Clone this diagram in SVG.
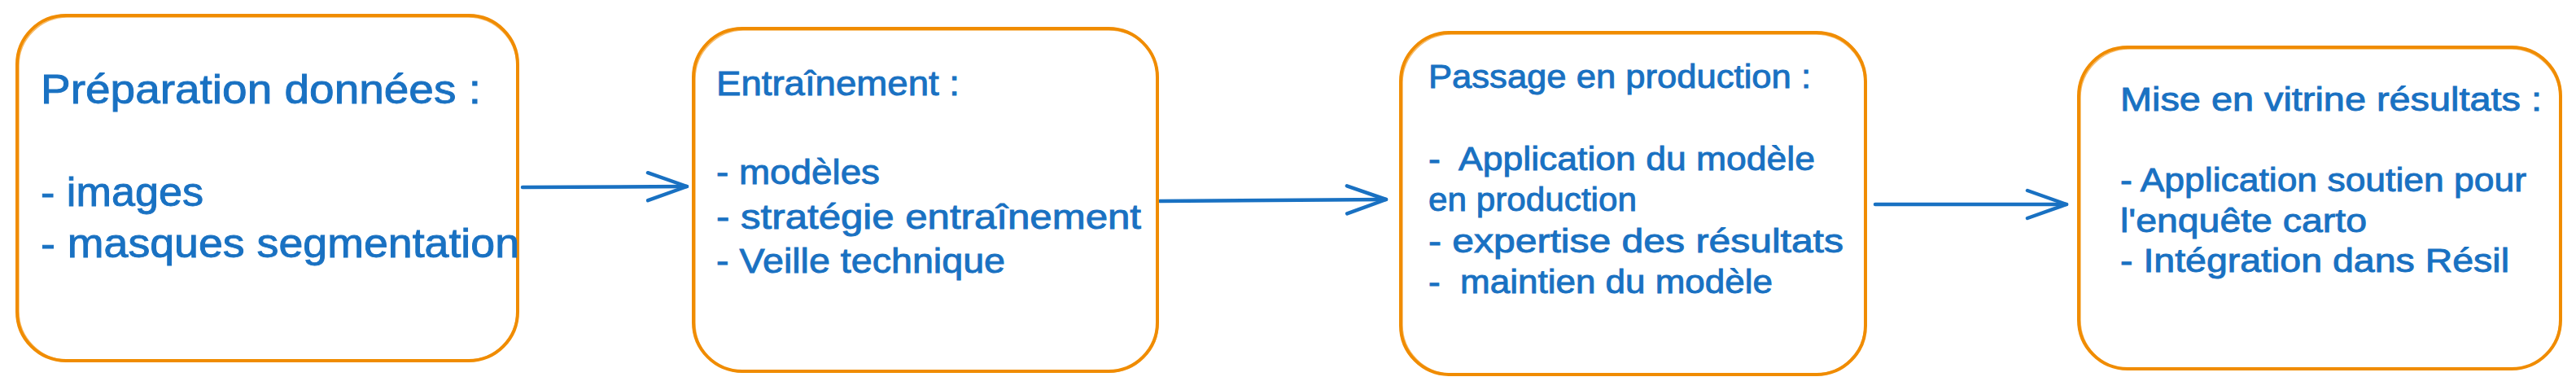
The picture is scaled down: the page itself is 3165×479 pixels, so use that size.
<svg xmlns="http://www.w3.org/2000/svg" width="3165" height="479" viewBox="0 0 3165 479">
<style>
.box{fill:#ffffff;stroke:#f08c00;stroke-width:4;stroke-linejoin:round}
.box2{fill:none;stroke:#f08c00;stroke-width:1.5;opacity:0.6}
.t{fill:#1971c2;stroke:#1971c2;stroke-width:0.9;font-family:"Liberation Sans","DejaVu Sans",sans-serif;white-space:pre}
.edge{fill:none;stroke:#1971c2;stroke-width:4.5;stroke-linecap:round}
.head{fill:none;stroke:#1971c2;stroke-width:4.5;stroke-linecap:round;stroke-linejoin:round}
</style>
<defs>
<marker id="ah" markerUnits="userSpaceOnUse" markerWidth="70" markerHeight="50" viewBox="-60 -25 70 50" refX="0" refY="0" orient="auto" overflow="visible">
<path class="head" d="M-48,-17 L0,0 L-48,17"/>
</marker>
</defs>
<rect width="3165" height="479" fill="#ffffff"/>
<g id="connectors">
<path id="e1" class="edge" d="M642,230 L844,229" marker-end="url(#ah)"/>
<path id="e2" class="edge" d="M1425,247 L1703,245" marker-end="url(#ah)"/>
<path id="e3" class="edge" d="M2304,251 L2539,251" marker-end="url(#ah)"/>
</g>
<g id="node1">
<rect class="box" x="21" y="19" width="615" height="424" rx="60" ry="60"/>
<rect class="box2" x="23" y="21" width="612" height="421" rx="60" ry="60"/>
<text class="t" font-size="50" x="50" y="127" textLength="541" lengthAdjust="spacingAndGlyphs">Préparation données :</text>
<text class="t" font-size="50" x="50" y="253" textLength="200" lengthAdjust="spacingAndGlyphs">- images</text>
<text class="t" font-size="50" x="50" y="316" textLength="588" lengthAdjust="spacingAndGlyphs">- masques segmentation</text>
</g>
<g id="node2">
<rect class="box" x="852" y="35" width="570" height="421" rx="60" ry="60"/>
<rect class="box2" x="854" y="37" width="569" height="420" rx="60" ry="60"/>
<text class="t" font-size="42" x="880" y="117" textLength="299" lengthAdjust="spacingAndGlyphs">Entraînement :</text>
<text class="t" font-size="42" x="880" y="226" textLength="201" lengthAdjust="spacingAndGlyphs">- modèles</text>
<text class="t" font-size="42" x="880" y="281" textLength="522" lengthAdjust="spacingAndGlyphs">- stratégie entraînement</text>
<text class="t" font-size="42" x="880" y="335" textLength="355" lengthAdjust="spacingAndGlyphs">- Veille technique</text>
</g>
<g id="node3">
<rect class="box" x="1721" y="40" width="571" height="420" rx="60" ry="60"/>
<rect class="box2" x="1723" y="42" width="568" height="417" rx="60" ry="60"/>
<text class="t" font-size="40" x="1755" y="108" textLength="470" lengthAdjust="spacingAndGlyphs">Passage en production :</text>
<text class="t" font-size="40" x="1755" y="209" textLength="475" lengthAdjust="spacingAndGlyphs">-  Application du modèle</text>
<text class="t" font-size="40" x="1755" y="259" textLength="256" lengthAdjust="spacingAndGlyphs">en production</text>
<text class="t" font-size="40" x="1755" y="310" textLength="510" lengthAdjust="spacingAndGlyphs">- expertise des résultats</text>
<text class="t" font-size="40" x="1755" y="360" textLength="423" lengthAdjust="spacingAndGlyphs">-  maintien du modèle</text>
</g>
<g id="node4">
<rect class="box" x="2554" y="58" width="592" height="395" rx="60" ry="60"/>
<rect class="box2" x="2556" y="60" width="589" height="393" rx="60" ry="60"/>
<text class="t" font-size="40" x="2605" y="136" textLength="518" lengthAdjust="spacingAndGlyphs">Mise en vitrine résultats :</text>
<text class="t" font-size="40" x="2605" y="235" textLength="499" lengthAdjust="spacingAndGlyphs">- Application soutien pour</text>
<text class="t" font-size="40" x="2605" y="285" textLength="303" lengthAdjust="spacingAndGlyphs">l'enquête carto</text>
<text class="t" font-size="40" x="2605" y="334" textLength="478" lengthAdjust="spacingAndGlyphs">- Intégration dans Résil</text>
</g>
</svg>
